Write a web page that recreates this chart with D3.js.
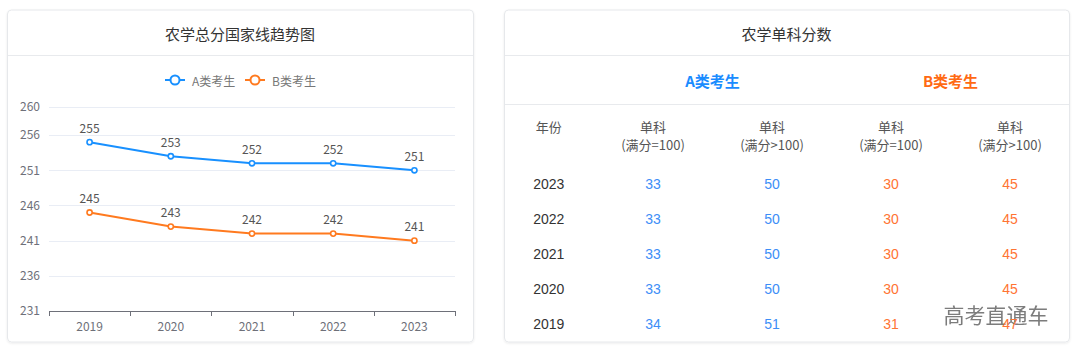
<!DOCTYPE html>
<html><head><meta charset="utf-8">
<script src="https://cdn.jsdelivr.net/npm/d3@7"></script>
<style>
html,body{margin:0;padding:0;background:#fff;}
svg{display:block;}
</style></head>
<body>
<svg id="c" width="1080" height="353"></svg>
<script>
// ---- data ----
const years = ["2019","2020","2021","2022","2023"];
const seriesNames = ["A类考生","B类考生"];
const seriesA = [255,253,252,252,251];
const seriesB = [245,243,242,242,241];
const yTicks = [231,236,241,246,251,256,260];

const tableYears = ["2023","2022","2021","2020","2019"];
const aEq100 = [33,33,33,33,34];
const aGt100 = [50,50,50,50,51];
const bEq100 = [30,30,30,30,31];
const bGt100 = [45,45,45,45,47];
const colHeaders = ["单科","单科","单科","单科"];
const colSubHeaders = ["(满分=100)","(满分>100)","(满分=100)","(满分>100)"];

const BLUE = "#1890ff", ORANGE = "#ff7a1f";
const CJK = "'Noto Sans CJK SC', 'Noto Sans', sans-serif";
const LAT = "'Liberation Sans', Arial, 'Noto Sans CJK SC', sans-serif";

const svg = d3.select("#c");
const defs = svg.append("defs");
const f = defs.append("filter").attr("id","sh").attr("x","-5%").attr("y","-5%").attr("width","110%").attr("height","110%");
f.append("feDropShadow").attr("dx",0).attr("dy",1).attr("stdDeviation",1.2).attr("flood-color","#000").attr("flood-opacity",0.08);

function card(x,y,w,h,title){
  const g = svg.append("g");
  g.append("rect").attr("x",x+0.5).attr("y",y+0.5).attr("width",w).attr("height",h)
    .attr("rx",4).attr("fill","#fff").attr("stroke","#e6e8eb").attr("filter","url(#sh)");
  g.append("line").attr("x1",x+1).attr("x2",x+w).attr("y1",55.5).attr("y2",55.5).attr("stroke","#e8eaed");
  g.append("text").attr("x",x+w/2).attr("y",33).attr("text-anchor","middle").attr("dominant-baseline","central")
    .attr("font-family",CJK).attr("font-size",15).attr("fill","#333").text(title);
  return g;
}

// ---- left card: line chart ----
card(7,9.5,466,332,"农学总分国家线趋势图");

const x = d3.scaleBand().domain(years).range([49,455]);
const y = d3.scaleLinear().domain([231,260]).range([311,107]);

const chart = svg.append("g");
// grid
chart.append("g").selectAll("line").data(yTicks.filter(t=>t!==231)).join("line")
  .attr("x1",49).attr("x2",455).attr("y1",d=>Math.round(y(d))+0.5).attr("y2",d=>Math.round(y(d))+0.5)
  .attr("stroke","#e9edf5").attr("stroke-width",1);
// y axis labels
const yAxis = d3.axisLeft(y).tickValues(yTicks).tickSize(0).tickPadding(9);
const ya = chart.append("g").attr("transform","translate(49,0)").call(yAxis);
ya.select(".domain").remove();
ya.selectAll("text").attr("font-family",CJK).attr("font-size",12).attr("fill","#6e7079");
// x axis
const xAxis = d3.axisBottom(x).tickSize(0).tickPadding(11);
const xa = chart.append("g").attr("transform","translate(0,311)").call(xAxis);
xa.select(".domain").attr("stroke","#6e7079").attr("d","M49.5,0.5H455.5");
xa.selectAll("text").attr("font-family",CJK).attr("font-size",12).attr("fill","#6e7079");
const bounds = years.map(d=>x(d)).concat([x.range()[1]]);
xa.append("g").selectAll("line").data(bounds).join("line")
  .attr("x1",d=>Math.round(d)+0.5).attr("x2",d=>Math.round(d)+0.5).attr("y1",0).attr("y2",5)
  .attr("stroke","#6e7079");

const series = [{name:seriesNames[0],vals:seriesA,color:BLUE},{name:seriesNames[1],vals:seriesB,color:ORANGE}];
const cx = d=>x(d)+x.bandwidth()/2;
const line = d3.line().x((v,i)=>cx(years[i])).y(v=>y(v));
series.forEach(s=>{
  const g = chart.append("g");
  g.append("path").attr("d",line(s.vals)).attr("fill","none").attr("stroke",s.color).attr("stroke-width",2);
  g.selectAll("circle").data(s.vals).join("circle")
    .attr("cx",(v,i)=>cx(years[i])).attr("cy",v=>y(v)).attr("r",2.6)
    .attr("fill","#fff").attr("stroke",s.color).attr("stroke-width",1.6);
  g.selectAll("text").data(s.vals).join("text")
    .attr("x",(v,i)=>cx(years[i])).attr("y",v=>y(v)-15).attr("text-anchor","middle").attr("dominant-baseline","central")
    .attr("font-family",CJK).attr("font-size",12).attr("fill","#555").text(v=>v);
});

// legend
const legendX = [165,245];
series.forEach((s,i)=>{
  const g = svg.append("g").attr("transform",`translate(${legendX[i]},80)`);
  g.append("line").attr("x1",0).attr("x2",20).attr("y1",0).attr("y2",0).attr("stroke",s.color).attr("stroke-width",2);
  g.append("circle").attr("cx",10).attr("cy",0).attr("r",4.5).attr("fill","#fff").attr("stroke",s.color).attr("stroke-width",2);
  g.append("text").attr("x",27).attr("y",0).attr("dominant-baseline","central")
    .attr("font-family",CJK).attr("font-size",12).attr("fill","#777").text(s.name);
});

// ---- right card: table ----
card(504,9.5,565,332,"农学单科分数");
svg.append("line").attr("x1",505).attr("x2",1069).attr("y1",104.5).attr("y2",104.5).attr("stroke","#e8eaed");

const colKeys = ["year","c1","c2","c3","c4"];
const colX = d3.scaleOrdinal().domain(colKeys).range([548.75,653,772,891,1010]);
const groupX = d3.scaleOrdinal().domain(seriesNames).range([712.5,950.5]);
const groupColor = [ "#1a8cff", "#ff6a13" ];

seriesNames.forEach((n,i)=>{
  svg.append("text").attr("x",groupX(n)).attr("y",80).attr("text-anchor","middle").attr("dominant-baseline","central")
    .attr("font-family",CJK).attr("font-size",15).attr("font-weight","bold").attr("fill",groupColor[i]).text(n);
});

const th = svg.append("g").attr("font-family",CJK).attr("font-size",13).attr("fill","#555").attr("text-anchor","middle");
th.append("text").attr("x",colX("year")).attr("y",126).attr("dominant-baseline","central").text("年份");
colHeaders.forEach((h,i)=>{
  th.append("text").attr("x",colX(colKeys[i+1])).attr("y",126).attr("dominant-baseline","central").text(h);
  th.append("text").attr("x",colX(colKeys[i+1])).attr("y",144).attr("dominant-baseline","central").text(colSubHeaders[i]);
});

const rowY = d3.scalePoint().domain(tableYears).range([183.5,324]);
const cols = [
  {key:"year",vals:tableYears,color:"#333"},
  {key:"c1",vals:aEq100,color:"#3d8ef7"},
  {key:"c2",vals:aGt100,color:"#3d8ef7"},
  {key:"c3",vals:bEq100,color:"#ff7433"},
  {key:"c4",vals:bGt100,color:"#ff7433"}
];

// watermark (drawn beneath the numbers so the overlapped value stays readable, as in the reference)
svg.append("text").attr("x",996).attr("y",314).attr("text-anchor","middle").attr("dominant-baseline","central")
  .attr("font-family",CJK).attr("font-size",21).attr("fill","#666").attr("opacity",0.85)
  .text("高考直通车");

const tb = svg.append("g").attr("font-family",LAT).attr("font-size",14).attr("text-anchor","middle");
cols.forEach(c=>{
  tb.append("g").selectAll("text").data(c.vals).join("text")
    .attr("x",colX(c.key)).attr("y",(v,i)=>rowY(tableYears[i])).attr("dominant-baseline","central")
    .attr("fill",c.color).text(v=>v);
});
</script>
</body></html>
